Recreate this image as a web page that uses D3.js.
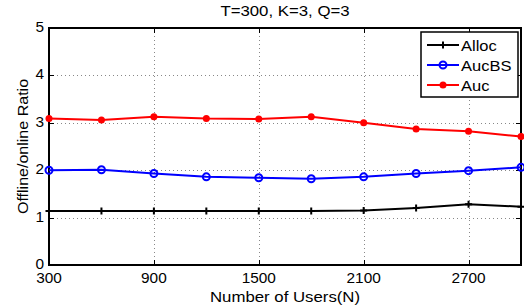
<!DOCTYPE html>
<html>
<head>
<meta charset="utf-8">
<script src="https://cdn.jsdelivr.net/npm/d3@7"></script>
<style>
  body { margin: 0; background: #fff; }
  text { font-family: "Liberation Sans", Arial, sans-serif; }
</style>
</head>
<body>
<div id="chart"></div>
<script>
// data
const users = [300, 600, 900, 1200, 1500, 1800, 2100, 2400, 2700, 3000];
const alloc = [1.14, 1.14, 1.14, 1.14, 1.14, 1.14, 1.15, 1.20, 1.28, 1.23];
const aucBS = [2.00, 2.01, 1.93, 1.86, 1.84, 1.82, 1.86, 1.93, 1.99, 2.06];
const auc   = [3.09, 3.06, 3.13, 3.09, 3.08, 3.13, 3.00, 2.87, 2.82, 2.71];
const xTicks = [300, 900, 1500, 2100, 2700];
const yTicks = [0, 1, 2, 3, 4, 5];

const width = 524, height = 307;
const margin = {top: 28, right: 3, bottom: 42, left: 49};

const svg = d3.select("#chart").append("svg")
    .attr("width", width).attr("height", height);

const x = d3.scaleLinear().domain([300, 3000]).range([margin.left, width - margin.right]);
const y = d3.scaleLinear().domain([0, 5]).range([height - margin.bottom, margin.top]);

const x0 = x.range()[0], x1 = x.range()[1];
const y0 = y.range()[0], y1 = y.range()[1];

// the original text is a bit wide, so stretch it horizontally
function label(g, tx, ty, str, size, anchor, sx, rot) {
    return g.append("text")
        .attr("transform", `translate(${tx},${ty})` + (rot ? ` rotate(${rot})` : "") + ` scale(${sx || 1.1},1)`)
        .attr("text-anchor", anchor || "start")
        .attr("font-size", size)
        .text(str);
}

// grid (dotted)
const grid = svg.append("g").attr("stroke", "#888").attr("stroke-width", 1)
    .attr("stroke-dasharray", "1,3");
xTicks.slice(1).forEach(t => {
    grid.append("line").attr("x1", Math.round(x(t)) + 0.5).attr("x2", Math.round(x(t)) + 0.5)
        .attr("y1", y1).attr("y2", y0);
});
yTicks.slice(1, -1).forEach(t => {
    grid.append("line").attr("x1", x0).attr("x2", x1)
        .attr("y1", Math.round(y(t)) + 0.5).attr("y2", Math.round(y(t)) + 0.5);
});

// inward ticks on all sides
const ticks = svg.append("g").attr("stroke", "#000").attr("stroke-width", 1);
xTicks.forEach(t => {
    const px = Math.round(x(t)) + 0.5;
    ticks.append("line").attr("x1", px).attr("x2", px).attr("y1", y0).attr("y2", y0 - 5);
    ticks.append("line").attr("x1", px).attr("x2", px).attr("y1", y1).attr("y2", y1 + 5);
});
yTicks.forEach(t => {
    const py = Math.round(y(t)) + 0.5;
    ticks.append("line").attr("x1", x0).attr("x2", x0 + 5).attr("y1", py).attr("y2", py);
    ticks.append("line").attr("x1", x1).attr("x2", x1 - 5).attr("y1", py).attr("y2", py);
});

// box
svg.append("rect").attr("x", x0).attr("y", y1).attr("width", x1 - x0).attr("height", y0 - y1)
    .attr("fill", "none").attr("stroke", "#000").attr("stroke-width", 2);

// tick labels
const tl = svg.append("g");
xTicks.forEach(t => label(tl, x(t), y0 + 18, t, 14, "middle"));
yTicks.forEach(t => label(tl, x0 - 5, y(t) + 4, t, 14, "end"));

// titles
label(svg, (x0 + x1) / 2, 16, "T=300, K=3, Q=3", 15, "middle", 1.12);
label(svg, (x0 + x1) / 2, 302, "Number of Users(N)", 15, "middle", 1.12);
label(svg, 28, (y0 + y1) / 2, "Offline/online Ratio", 15, "middle", 1.07, -90);

const series = [
    {name: "Alloc", values: alloc, color: "#000", marker: "plus"},
    {name: "AucBS", values: aucBS, color: "#0000ff", marker: "circle"},
    {name: "Auc", values: auc, color: "#ff0000", marker: "dot"}
];

const line = d3.line().x((d, i) => x(users[i])).y(d => y(d));

function drawMarker(g, cx, cy, s) {
    if (s.marker === "plus") {
        g.append("path").attr("d", `M${cx - 3.5},${cy}H${cx + 3.5}M${cx},${cy - 3.5}V${cy + 3.5}`)
            .attr("stroke", s.color).attr("stroke-width", 2);
    } else if (s.marker === "circle") {
        g.append("circle").attr("cx", cx).attr("cy", cy).attr("r", 3.5)
            .attr("fill", "none").attr("stroke", s.color).attr("stroke-width", 2);
    } else {
        g.append("circle").attr("cx", cx).attr("cy", cy).attr("r", 3.5).attr("fill", s.color);
    }
}

series.forEach(s => {
    const g = svg.append("g");
    g.append("path").datum(s.values).attr("d", line)
        .attr("fill", "none").attr("stroke", s.color).attr("stroke-width", 2);
    s.values.forEach((v, i) => drawMarker(g, x(users[i]), y(v), s));
});

// legend
const lg = svg.append("g").attr("transform", "translate(421,32)");
lg.append("rect").attr("width", 97).attr("height", 65)
    .attr("fill", "#fff").attr("stroke", "#000").attr("stroke-width", 1.5);
series.forEach((s, i) => {
    const cy = 13 + i * 20;
    lg.append("line").attr("x1", 6).attr("x2", 38).attr("y1", cy).attr("y2", cy)
        .attr("stroke", s.color).attr("stroke-width", 2);
    drawMarker(lg, 22, cy, s);
    label(lg, 40, cy + 5.5, s.name, 15, "start", 1.1);
});
</script>
</body>
</html>
